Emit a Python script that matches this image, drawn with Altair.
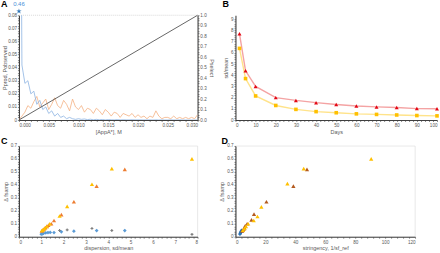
import numpy as np
import pandas as pd
import altair as alt

# ---------------- Panel A data ----------------
blue_A = [0.46, 0.042, 0.028, 0.030, 0.020, 0.022, 0.012, 0.015, 0.008, 0.010, 0.005,
          0.007, 0.003, 0.005, 0.002, 0.003, 0.001, 0.002, 0.001, 0.0005, 0.001,
          0.0005, 0.0008, 0.0003, 0.0006, 0.0002, 0.0005, 0.0002, 0.0004, 0.0001, 0.0003,
          0.0002, 0.0001, 0.0003, 0.0001, 0.0002, 0.0001, 0.0001, 0.0002, 0.0001, 0.0001,
          0.0001, 0.0, 0.0001, 0.0001, 0.0, 0.0001, 0.0, 0.0001, 0.0, 0.0,
          0.0001, 0.0, 0.0, 0.0001, 0.0, 0.0, 0.0, 0.0, 0.0, 0.0]
orange_A = [0.0, 0.003, 0.006, 0.011, 0.009, 0.014, 0.018, 0.010, 0.013, 0.016, 0.008,
            0.012, 0.017, 0.011, 0.009, 0.015, 0.012, 0.007, 0.016, 0.010, 0.008,
            0.011, 0.006, 0.009, 0.008, 0.005, 0.009, 0.007, 0.004, 0.008, 0.006,
            0.003, 0.006, 0.005, 0.002, 0.005, 0.004, 0.003, 0.005, 0.002, 0.004,
            0.002, 0.003, 0.001, 0.003, 0.002, 0.007, 0.003, 0.001, 0.002, 0.002,
            0.001, 0.003, 0.001, 0.002, 0.001, 0.002, 0.001, 0.002, 0.001, 0.004]
bin_width_A = 0.0005
diag_x = [0.0, 0.03]
diag_p = [0.0, 1.0]
offscale_value = [0.46]

# ---------------- Panel B data ----------------
days = [2, 5, 10, 20, 30, 40, 50, 60, 70, 80, 90, 100]
red_B = [7.7, 4.4, 3.0, 2.0, 1.75, 1.55, 1.38, 1.25, 1.17, 1.12, 1.02, 1.0]
yellow_B = [6.4, 3.7, 2.15, 1.3, 0.95, 0.75, 0.65, 0.55, 0.5, 0.45, 0.4, 0.37]

# ---------------- Panel C data ----------------
yellowC_x = [7.75, 4.16, 3.27, 2.16, 1.82, 1.38, 1.25, 1.15, 1.08, 1.03]
yellowC_y = [0.60, 0.525, 0.405, 0.234, 0.16, 0.10, 0.08, 0.065, 0.055, 0.048]
orangeC_x = [4.74, 3.48, 2.46, 1.90, 1.57, 1.45, 1.32, 1.25, 1.18, 1.12, 1.07, 1.02]
orangeC_y = [0.52, 0.39, 0.27, 0.17, 0.125, 0.10, 0.09, 0.08, 0.07, 0.06, 0.052, 0.045]
blueC_x = [4.74, 3.48, 2.46, 1.90, 1.57, 1.40, 1.30, 1.20, 1.10, 1.05, 1.00]
blueC_y = [0.048, 0.048, 0.043, 0.038, 0.032, 0.033, 0.032, 0.030, 0.026, 0.023, 0.020]
greyC_x = [7.75, 4.16, 3.27, 2.16, 1.82]
greyC_y = [0.018, 0.048, 0.064, 0.053, 0.048]

# ---------------- Panel D data ----------------
yellowD_x = [90.7, 45.6, 34.7, 17.3, 14.7, 12.2, 8.5, 7.0, 6.0, 5.0]
yellowD_y = [0.60, 0.525, 0.41, 0.23, 0.156, 0.125, 0.10, 0.08, 0.065, 0.05]
brownD_x = [47.8, 38.7, 20.7, 12.4, 10.7, 7.8, 6.5, 6.0, 5.5, 5.0, 4.5]
brownD_y = [0.52, 0.39, 0.27, 0.175, 0.13, 0.10, 0.085, 0.07, 0.06, 0.05, 0.045]
blueD_x = [3.0, 3.2, 3.4, 3.6, 3.8, 4.0, 4.2]
blueD_y = [0.02, 0.025, 0.03, 0.035, 0.04, 0.045, 0.05]

FONT = "Liberation Sans"
GREY = "#595959"
STAR = "M0,-1L0.22,-0.3L0.95,-0.3L0.36,0.12L0.59,0.81L0,0.38L-0.59,0.81L-0.36,0.12L-0.95,-0.3L-0.22,-0.3Z"


def axis(values, major, fmt, zero, title=None, orient=None, vertical=False, **kw):
    expr = (f"abs(datum.value/{major} - round(datum.value/{major})) < 0.001 ? "
            f"(datum.value == 0 ? '{zero}' : format(datum.value, '{fmt}')) : ''")
    args = dict(values=values, labelExpr=expr, labelOverlap=False, title=title,
                tickSize=1.5, labelPadding=0.8 if vertical else 1,
                titlePadding=0.5 if vertical else 2)
    if orient:
        args["orient"] = orient
    args.update(kw)
    return alt.Axis(**args)


def letter(txt, dx, dy):
    return alt.Chart(pd.DataFrame({"t": [txt]})).mark_text(
        fontSize=9, fontWeight="bold", font=FONT, color="black",
        align="left", baseline="top").encode(x=alt.value(dx), y=alt.value(dy), text="t:N")


# ---------------- Panel A ----------------
xA = [bin_width_A * i for i in range(len(blue_A))]
dfBlueA = pd.DataFrame({"x": xA, "y": blue_A})
dfOrangeA = pd.DataFrame({"x": xA, "y": orange_A})
xA_scale = alt.Scale(domain=[0, 0.03], nice=False, zero=False)
yA_scale = alt.Scale(domain=[0, 0.08], nice=False)
xA_axis = axis(list(np.round(np.arange(0, 0.0301, 0.001), 4)), 0.005, ".3f", "0.000", "[AppA*], M")
yA_axis = axis(list(np.round(np.arange(0, 0.0801, 0.002), 4)), 0.01, ".2f", "0",
               "Pprod, Pobserved", vertical=True)

orange_line = alt.Chart(dfOrangeA).mark_line(strokeWidth=0.8, clip=True, color="#f4b183").encode(
    x=alt.X("x:Q", scale=xA_scale, axis=xA_axis),
    y=alt.Y("y:Q", scale=yA_scale, axis=yA_axis))
blue_line = alt.Chart(dfBlueA).mark_line(strokeWidth=0.8, clip=True, color="#8db4e2").encode(
    x=alt.X("x:Q", scale=xA_scale, axis=xA_axis),
    y=alt.Y("y:Q", scale=yA_scale, axis=yA_axis))
top_rule = alt.Chart(pd.DataFrame({"v": [0.08]})).mark_rule(
    strokeDash=[1, 1], color="#c0c0c0", strokeWidth=0.6).encode(
    y=alt.Y("v:Q", scale=yA_scale, axis=yA_axis))
left_layer = alt.layer(top_rule, orange_line, blue_line)

dfDiag = pd.DataFrame({"x": diag_x, "p": diag_p})
diag = alt.Chart(dfDiag).mark_line(color="#404040", strokeWidth=0.8).encode(
    x=alt.X("x:Q", scale=xA_scale, axis=xA_axis),
    y=alt.Y("p:Q", scale=alt.Scale(domain=[0, 1], nice=False),
            axis=axis(list(np.round(np.arange(0, 1.001, 0.025), 3)), 0.1, ".1f", "0.0",
                      "Pselect", orient="right", vertical=True, titlePadding=2)),
)
star_df = pd.DataFrame({"v": offscale_value})
star = alt.Chart(star_df).mark_point(shape=STAR, filled=True, size=32, color="#2e75b6",
                                     opacity=1).encode(x=alt.value(0), y=alt.value(-4))
star_txt = alt.Chart(star_df).mark_text(fontSize=6, font=FONT, color="#4a90d9").encode(
    x=alt.value(0), y=alt.value(-11), text=alt.Text("v:Q", format=".2f"))

panelA = alt.layer(left_layer, diag, star, star_txt, letter("A", -18, -15)).resolve_scale(
    y="independent").properties(width=179, height=105)

# ---------------- Panel B ----------------
dfRed = pd.DataFrame({"d": days, "v": red_B})
dfYel = pd.DataFrame({"d": days, "v": yellow_B})
xB = alt.X("d:Q", scale=alt.Scale(domain=[0, 100], nice=False),
           axis=axis(list(range(0, 101, 2)), 10, "d", "0", "Days"))
yB = alt.Y("v:Q", scale=alt.Scale(domain=[0, 9.36], nice=False),
           axis=axis(list(np.round(np.arange(0, 9.01, 0.2), 2)), 1, "d", "0", "sd/mean",
                     vertical=True, titlePadding=2))
redLine = alt.Chart(dfRed).mark_line(strokeWidth=1.4, color="#f4a3a3").encode(x=xB, y=yB)
yelLine = alt.Chart(dfYel).mark_line(strokeWidth=1.4, color="#ffe38a").encode(x=xB, y=yB)
redB = alt.Chart(dfRed).mark_point(shape="triangle-up", filled=True, size=16,
                                   color="#e30613", opacity=1).encode(x=xB, y=yB)
yelB = alt.Chart(dfYel).mark_point(shape="square", filled=True, size=13,
                                   color="#ffc000", opacity=1).encode(x=xB, y=yB)
panelB = alt.layer(redLine, yelLine, redB, yelB, letter("B", -13, -15)).properties(
    width=202, height=105)


# ---------------- Panels C & D ----------------
def scatter_panel(groups, xmax, xstep, xminor, xtitle, lab, lab_dx, width):
    xe = alt.X("x:Q", scale=alt.Scale(domain=[0, xmax], nice=False),
               axis=axis(list(np.round(np.arange(0, xmax + 1e-9, xminor), 3)), xstep, "d", "0", xtitle))
    ye = alt.Y("y:Q", scale=alt.Scale(domain=[0, 0.7], nice=False),
               axis=axis(list(np.round(np.arange(0, 0.7001, 0.02), 3)), 0.1, ".1f", "0", "Δ fsamp",
                         vertical=True, titlePadding=2))
    layers = []
    for xs, ys, shape, color, size in groups:
        df = pd.DataFrame({"x": xs, "y": ys})
        layers.append(alt.Chart(df).mark_point(
            shape=shape, filled=True, size=size, color=color, opacity=1).encode(x=xe, y=ye))
    layers.append(letter(lab, lab_dx, -9))
    return alt.layer(*layers).properties(
        width=width, height=91,
        view=alt.ViewBackground(stroke="#d9d9d9", strokeWidth=0.6))


panelC = scatter_panel([
    (greyC_x, greyC_y, "cross", "#7f7f7f", 8),
    (blueC_x, blueC_y, "diamond", "#5b9bd5", 14),
    (orangeC_x, orangeC_y, "triangle-up", "#ed7d31", 18),
    (yellowC_x, yellowC_y, "triangle-up", "#ffc000", 18),
], 8, 1, 0.2, "dispersion, sd/mean", "C", -18, 179)

panelD = scatter_panel([
    (blueD_x, blueD_y, "diamond", "#2e75b6", 14),
    (brownD_x, brownD_y, "triangle-up", "#b35a1f", 18),
    (yellowD_x, yellowD_y, "triangle-up", "#ffc000", 18),
], 120, 20, 4, "stringency, 1/sf_ref", "D", -14, 180)

chart = alt.concat(panelA, panelB, panelC, panelD, columns=2,
                   spacing=alt.RowColnumber(row=26, column=38), bounds="flush").properties(
    padding=0, background="white"
).configure_view(stroke=None).configure_axis(
    grid=False, labelFontSize=4.6, titleFontSize=5.5, labelFont=FONT, titleFont=FONT,
    labelColor=GREY, titleColor=GREY, titleFontWeight="normal",
    domainColor="#404040", tickColor="#404040", domainWidth=1.1, tickWidth=0.6,
)

chart.save("out.html", embed_options={"renderer": "svg", "actions": False})
